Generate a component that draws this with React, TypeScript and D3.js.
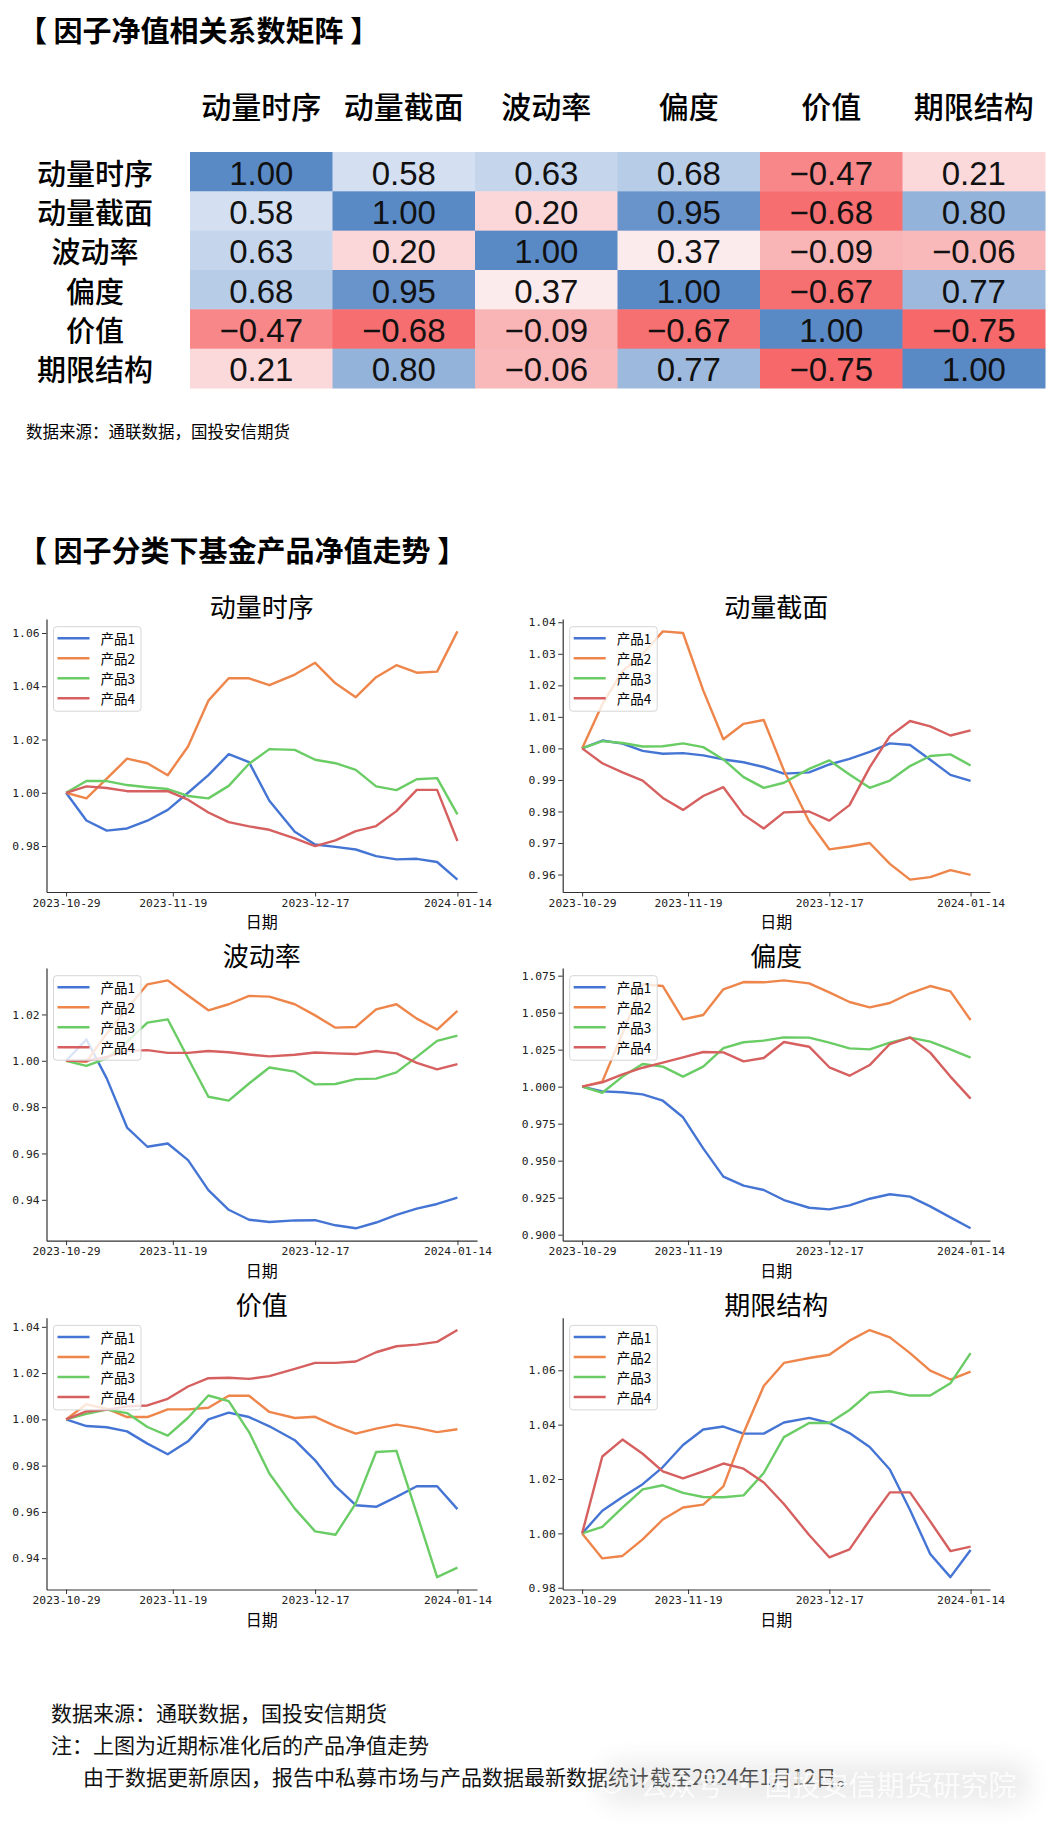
import React, { useEffect, useRef } from 'react';
import * as d3 from 'd3';

// 因子名称
const factors = ['动量时序', '动量截面', '波动率', '偏度', '价值', '期限结构'];

// 相关系数矩阵（按行）
const corrMomTs = [1.0, 0.58, 0.63, 0.68, -0.47, 0.21];
const corrMomCs = [0.58, 1.0, 0.2, 0.95, -0.68, 0.8];
const corrVol = [0.63, 0.2, 1.0, 0.37, -0.09, -0.06];
const corrSkew = [0.68, 0.95, 0.37, 1.0, -0.67, 0.77];
const corrValue = [-0.47, -0.68, -0.09, -0.67, 1.0, -0.75];
const corrTerm = [0.21, 0.8, -0.06, 0.77, -0.75, 1.0];

const products = ['产品1', '产品2', '产品3', '产品4'];
const lineColors = ['#4575d4', '#ee854a', '#6acc64', '#d65f5f'];

const dates = [
  '2023-10-29', '2023-11-02', '2023-11-06', '2023-11-10', '2023-11-14',
  '2023-11-18', '2023-11-22', '2023-11-26', '2023-11-30', '2023-12-04',
  '2023-12-08', '2023-12-13', '2023-12-17', '2023-12-21', '2023-12-25',
  '2023-12-29', '2024-01-02', '2024-01-06', '2024-01-10', '2024-01-14',
];
const xTickDates = ['2023-10-29', '2023-11-19', '2023-12-17', '2024-01-14'];

// 动量时序
const momTs1 = [1.0, 0.9896, 0.9858, 0.9866, 0.9895, 0.9936, 1.0, 1.0066, 1.0145, 1.0115, 0.997, 0.9854, 0.9806, 0.9797, 0.9787, 0.9762, 0.975, 0.9752, 0.974, 0.9674];
const momTs2 = [1.0, 0.9979, 1.0053, 1.0128, 1.0111, 1.0066, 1.0174, 1.0346, 1.043, 1.043, 1.0404, 1.0444, 1.0488, 1.0411, 1.0359, 1.0434, 1.0479, 1.0451, 1.0455, 1.0606];
const momTs3 = [1.0, 1.0044, 1.0044, 1.0029, 1.0021, 1.0014, 0.9988, 0.9979, 1.0026, 1.0109, 1.0164, 1.0161, 1.0124, 1.0111, 1.0086, 1.0024, 1.001, 1.0051, 1.0055, 0.9919];
const momTs4 = [1.0, 1.0024, 1.0018, 1.0006, 1.0006, 1.0006, 0.9974, 0.9926, 0.989, 0.9874, 0.9861, 0.9829, 0.98, 0.9821, 0.9856, 0.9875, 0.9931, 1.0011, 1.0011, 0.9819];

// 动量截面
const momCs1 = [1.0, 1.0025, 1.0015, 0.9992, 0.9983, 0.9985, 0.9978, 0.9965, 0.9956, 0.9941, 0.992, 0.9924, 0.9949, 0.9967, 0.9989, 1.0016, 1.0011, 0.9964, 0.9916, 0.9897];
const momCs2 = [1.0, 1.014, 1.0245, 1.03, 1.0371, 1.0366, 1.0184, 1.0029, 1.0078, 1.009, 0.993, 0.9768, 0.968, 0.9689, 0.97, 0.9634, 0.9584, 0.9592, 0.9614, 0.9599];
const momCs3 = [1.0, 1.0023, 1.0017, 1.0006, 1.0007, 1.0016, 1.0004, 0.9965, 0.9909, 0.9875, 0.9891, 0.9935, 0.9962, 0.9917, 0.9875, 0.9898, 0.9944, 0.9976, 0.9981, 0.9946];
const momCs4 = [1.0, 0.9953, 0.9924, 0.9898, 0.9843, 0.9805, 0.9849, 0.9877, 0.979, 0.9746, 0.9797, 0.98, 0.9771, 0.982, 0.994, 1.0039, 1.0087, 1.007, 1.0041, 1.0057];

// 波动率
const vol1 = [1.0, 1.0092, 0.9924, 0.9712, 0.9629, 0.9643, 0.9571, 0.9442, 0.9357, 0.9314, 0.9304, 0.9311, 0.9312, 0.929, 0.9277, 0.9302, 0.9335, 0.9362, 0.9382, 0.9409];
const vol2 = [1.0, 0.9996, 1.0118, 1.0225, 1.033, 1.0347, 1.0282, 1.0218, 1.0244, 1.028, 1.0277, 1.0244, 1.0196, 1.0143, 1.0146, 1.0222, 1.0244, 1.0182, 1.0135, 1.0215];
const vol3 = [1.0, 0.9978, 1.001, 1.0082, 1.0165, 1.0179, 1.0011, 0.9845, 0.9828, 0.9902, 0.9971, 0.9953, 0.9898, 0.99, 0.9921, 0.9923, 0.995, 1.0017, 1.0086, 1.0109];
const vol4 = [1.0, 1.0, 1.0017, 1.0043, 1.0046, 1.0034, 1.0034, 1.0042, 1.0037, 1.0027, 1.0019, 1.0026, 1.0036, 1.0032, 1.0029, 1.0042, 1.0032, 0.9991, 0.9963, 0.9986];

// 偏度
const skew1 = [1.0, 0.9968, 0.9962, 0.9948, 0.9905, 0.9793, 0.9583, 0.9392, 0.9331, 0.9302, 0.9234, 0.9182, 0.9171, 0.9198, 0.9243, 0.9273, 0.9257, 0.9191, 0.9117, 0.9043];
const skew2 = [1.0, 1.0034, 1.036, 1.0691, 1.068, 1.0455, 1.0484, 1.0658, 1.0707, 1.0705, 1.0718, 1.0698, 1.0637, 1.0572, 1.0536, 1.0565, 1.0631, 1.068, 1.0644, 1.045];
const skew3 = [1.0, 0.9959, 1.0068, 1.0153, 1.0135, 1.0068, 1.0135, 1.0261, 1.03, 1.0311, 1.0333, 1.0331, 1.0297, 1.0259, 1.0252, 1.0297, 1.0331, 1.0304, 1.0252, 1.0196];
const skew4 = [1.0, 1.0029, 1.0083, 1.0128, 1.0162, 1.0198, 1.0234, 1.0232, 1.0171, 1.0194, 1.0302, 1.027, 1.0131, 1.0074, 1.0146, 1.0288, 1.0333, 1.023, 1.0068, 0.9919];

// 价值
const value1 = [1.0, 0.9971, 0.9966, 0.9948, 0.9895, 0.9849, 0.9905, 1.0, 1.0029, 1.001, 0.997, 0.991, 0.9823, 0.9711, 0.9629, 0.9622, 0.9665, 0.9711, 0.9711, 0.9612];
const value2 = [1.0, 1.0065, 1.0046, 1.001, 1.001, 1.0043, 1.0043, 1.005, 1.0102, 1.0102, 1.0032, 1.0006, 1.0011, 0.9971, 0.9938, 0.996, 0.9977, 0.9963, 0.9945, 0.9957];
const value3 = [1.0, 1.0024, 1.0042, 1.0027, 0.9967, 0.993, 1.0007, 1.0103, 1.0079, 0.9945, 0.9766, 0.9614, 0.9516, 0.9501, 0.9637, 0.9859, 0.9864, 0.9593, 0.9318, 0.9359];
const value4 = [1.0, 1.0034, 1.0042, 1.0056, 1.006, 1.0089, 1.0142, 1.0178, 1.018, 1.0175, 1.0187, 1.0218, 1.0244, 1.0244, 1.025, 1.029, 1.0316, 1.0323, 1.0335, 1.0386];

// 期限结构
const term1 = [1.0, 1.0083, 1.0134, 1.0181, 1.0244, 1.0325, 1.0382, 1.0393, 1.0367, 1.0367, 1.0408, 1.0425, 1.0406, 1.0369, 1.0318, 1.0235, 1.0086, 0.9924, 0.9839, 0.9939];
const term2 = [1.0, 0.9908, 0.9917, 0.9978, 1.0051, 1.0095, 1.0106, 1.0173, 1.0369, 1.0542, 1.0627, 1.0645, 1.0657, 1.0709, 1.0748, 1.0721, 1.0663, 1.0599, 1.0566, 1.0595];
const term3 = [1.0, 1.0024, 1.0095, 1.0162, 1.0177, 1.0149, 1.0134, 1.0133, 1.014, 1.0222, 1.0354, 1.0406, 1.0406, 1.0454, 1.0518, 1.0523, 1.0507, 1.0507, 1.0552, 1.0663];
const term4 = [1.0, 1.0283, 1.0345, 1.0293, 1.0228, 1.0202, 1.0228, 1.0257, 1.0238, 1.0187, 1.0108, 0.9994, 0.9912, 0.9941, 1.0049, 1.0151, 1.0151, 1.0044, 0.9935, 0.9951];

// y 轴刻度
const yTicksMomTs = [0.98, 1.0, 1.02, 1.04, 1.06];
const yTicksMomCs = [0.96, 0.97, 0.98, 0.99, 1.0, 1.01, 1.02, 1.03, 1.04];
const yTicksVol = [0.94, 0.96, 0.98, 1.0, 1.02];
const yTicksSkew = [0.9, 0.925, 0.95, 0.975, 1.0, 1.025, 1.05, 1.075];
const yTicksValue = [0.94, 0.96, 0.98, 1.0, 1.02, 1.04];
const yTicksTerm = [0.98, 1.0, 1.02, 1.04, 1.06];

const W = 1047;
const H = 1825;
const CJK = "'Noto Sans CJK SC', 'Noto Sans CJK JP', sans-serif";
const MONO = "'DejaVu Sans Mono', monospace";
const ARIAL = "'Liberation Sans', Arial, sans-serif";

const App = () => {
  const svgRef = useRef<SVGSVGElement>(null);

  useEffect(() => {
    const svg = d3.select(svgRef.current);
    svg.selectAll('*').remove();

    svg.append('rect').attr('width', W).attr('height', H).attr('fill', '#fff');

    // ---------- 相关系数矩阵 ----------
    svg.append('text')
      .attr('x', 18).attr('y', 29)
      .attr('dominant-baseline', 'central')
      .attr('font-family', CJK).attr('font-size', 29).attr('font-weight', 'bold')
      .text('【 因子净值相关系数矩阵 】');

    const corr = [corrMomTs, corrMomCs, corrVol, corrSkew, corrValue, corrTerm];
    const hx = d3.scaleBand().domain(factors).range([190, 1045]);
    const hy = d3.scaleBand().domain(factors).range([152, 388]);
    // 红-白-蓝分段色阶
    const color = d3.scaleLinear<string>()
      .domain([-0.73, 0.43, 0.49, 1.0])
      .range(['#f6686a', '#fcf2f4', '#eef3fa', '#5a8ac6'])
      .clamp(true);
    const fmt2 = d3.format('.2f');

    const heat = svg.append('g');
    corr.forEach((row, i) => {
      row.forEach((v, j) => {
        heat.append('rect')
          .attr('x', hx(factors[j])!)
          .attr('y', hy(factors[i])!)
          .attr('width', hx.bandwidth() + 0.5)
          .attr('height', hy.bandwidth() + 0.5)
          .attr('fill', color(v));
        heat.append('text')
          .attr('x', hx(factors[j])! + hx.bandwidth() / 2)
          .attr('y', hy(factors[i])! + hy.bandwidth() / 2 + 1.5)
          .attr('text-anchor', 'middle')
          .attr('dominant-baseline', 'central')
          .attr('font-family', ARIAL).attr('font-size', 33)
          .attr('fill', '#111')
          .text(fmt2(v));
      });
    });

    heat.selectAll('.col-label')
      .data(factors)
      .enter().append('text')
      .attr('x', d => hx(d)! + hx.bandwidth() / 2)
      .attr('y', 105)
      .attr('text-anchor', 'middle')
      .attr('dominant-baseline', 'central')
      .attr('font-family', CJK).attr('font-size', 30).attr('font-weight', 500)
      .text(d => d);

    heat.selectAll('.row-label')
      .data(factors)
      .enter().append('text')
      .attr('x', 95)
      .attr('y', d => hy(d)! + hy.bandwidth() / 2)
      .attr('text-anchor', 'middle')
      .attr('dominant-baseline', 'central')
      .attr('font-family', CJK).attr('font-size', 29).attr('font-weight', 500)
      .text(d => d);

    svg.append('text')
      .attr('x', 26).attr('y', 431)
      .attr('dominant-baseline', 'central')
      .attr('font-family', CJK).attr('font-size', 16.5)
      .text('数据来源：通联数据，国投安信期货');

    // ---------- 净值走势 ----------
    svg.append('text')
      .attr('x', 18).attr('y', 549)
      .attr('dominant-baseline', 'central')
      .attr('font-family', CJK).attr('font-size', 29).attr('font-weight', 'bold')
      .text('【 因子分类下基金产品净值走势 】');

    const panels = [
      { title: '动量时序', series: [momTs1, momTs2, momTs3, momTs4], yTicks: yTicksMomTs, fmt: '.2f' },
      { title: '动量截面', series: [momCs1, momCs2, momCs3, momCs4], yTicks: yTicksMomCs, fmt: '.2f' },
      { title: '波动率', series: [vol1, vol2, vol3, vol4], yTicks: yTicksVol, fmt: '.2f' },
      { title: '偏度', series: [skew1, skew2, skew3, skew4], yTicks: yTicksSkew, fmt: '.3f' },
      { title: '价值', series: [value1, value2, value3, value4], yTicks: yTicksValue, fmt: '.2f' },
      { title: '期限结构', series: [term1, term2, term3, term4], yTicks: yTicksTerm, fmt: '.2f' },
    ];
    const colX = [[46.5, 477], [562.7, 990]];
    const rowY = [[619, 892], [968, 1240.7], [1317.7, 1589.5]];

    const parse = d3.timeParse('%Y-%m-%d');
    const t = dates.map(d => parse(d)!);
    const tSpan = +t[t.length - 1] - +t[0];

    panels.forEach((p, k) => {
      const [x0, x1] = colX[k % 2];
      const [y0, y1] = rowY[Math.floor(k / 2)];
      const g = svg.append('g');

      const x = d3.scaleTime()
        .domain([new Date(+t[0] - tSpan * 0.05), new Date(+t[t.length - 1] + tSpan * 0.05)])
        .range([x0, x1]);
      const [mn, mx] = d3.extent(p.series.flat()) as [number, number];
      const pad = (mx - mn) * 0.05;
      const y = d3.scaleLinear().domain([mn - pad, mx + pad]).range([y1, y0]);

      const line = d3.line<number>()
        .x((d, i) => x(t[i]))
        .y(d => y(d));

      p.series.forEach((s, i) => {
        g.append('path')
          .datum(s)
          .attr('d', line)
          .attr('fill', 'none')
          .attr('stroke', lineColors[i])
          .attr('stroke-width', 2.4)
          .attr('stroke-linejoin', 'round');
      });

      const xAxis = d3.axisBottom(x)
        .tickValues(xTickDates.map(d => parse(d)!))
        .tickFormat(d => d3.timeFormat('%Y-%m-%d')(d as Date))
        .tickSize(4.5).tickSizeOuter(0).tickPadding(2);
      const gx = g.append('g').attr('transform', `translate(0,${y1})`).call(xAxis);

      const yAxis = d3.axisLeft(y)
        .tickValues(p.yTicks)
        .tickFormat(d3.format(p.fmt))
        .tickSize(4.5).tickSizeOuter(0).tickPadding(2.5);
      const gy = g.append('g').attr('transform', `translate(${x0},0)`).call(yAxis);

      [gx, gy].forEach(ax => {
        ax.select('.domain').attr('stroke', '#333').attr('stroke-width', 1.2);
        ax.selectAll('.tick line').attr('stroke', '#333').attr('stroke-width', 1);
        ax.selectAll('.tick text')
          .attr('font-family', MONO).attr('font-size', 11.3).attr('fill', '#222');
      });

      g.append('text')
        .attr('x', (x0 + x1) / 2).attr('y', y0 - 14)
        .attr('text-anchor', 'middle').attr('dominant-baseline', 'central')
        .attr('font-family', CJK).attr('font-size', 26)
        .text(p.title);

      g.append('text')
        .attr('x', (x0 + x1) / 2).attr('y', y1 + 29)
        .attr('text-anchor', 'middle').attr('dominant-baseline', 'central')
        .attr('font-family', CJK).attr('font-size', 16)
        .text('日期');

      // 图例
      const lx = x0 + 7;
      const ly = y0 + 7.7;
      const lg = g.append('g').attr('transform', `translate(${lx},${ly})`);
      lg.append('rect')
        .attr('width', 87.5).attr('height', 84.5).attr('rx', 3)
        .attr('fill', '#fff').attr('fill-opacity', 0.8)
        .attr('stroke', '#d6d6d6').attr('stroke-width', 1);
      products.forEach((name, i) => {
        const cy = 11.6 + i * 20;
        lg.append('line')
          .attr('x1', 4).attr('x2', 36).attr('y1', cy).attr('y2', cy)
          .attr('stroke', lineColors[i]).attr('stroke-width', 2.4);
        lg.append('text')
          .attr('x', 47).attr('y', cy)
          .attr('dominant-baseline', 'central')
          .attr('font-family', CJK).attr('font-size', 13.5)
          .text(name);
      });
    });

    // ---------- 注释 ----------
    const notes = [
      { text: '数据来源：通联数据，国投安信期货', x: 51, y: 1712 },
      { text: '注：上图为近期标准化后的产品净值走势', x: 51, y: 1744 },
      { text: '由于数据更新原因，报告中私募市场与产品数据最新数据统计截至2024年1月12日。', x: 83, y: 1776 },
    ];
    notes.forEach(n => {
      svg.append('text')
        .attr('x', n.x).attr('y', n.y)
        .attr('dominant-baseline', 'central')
        .attr('font-family', CJK).attr('font-size', 21)
        .attr('fill', '#111')
        .text(n.text);
    });

    // 水印
    const defs = svg.append('defs');
    defs.append('filter').attr('id', 'wm-blur')
      .attr('x', '-30%').attr('y', '-80%').attr('width', '160%').attr('height', '260%')
      .append('feGaussianBlur').attr('stdDeviation', 12);
    svg.append('rect')
      .attr('x', 600).attr('y', 1762).attr('width', 430).attr('height', 42).attr('rx', 20)
      .attr('fill', '#cfcfcf').attr('opacity', 0.4)
      .attr('filter', 'url(#wm-blur)');
    svg.append('circle')
      .attr('cx', 612).attr('cy', 1784).attr('r', 9)
      .attr('fill', 'none').attr('stroke', '#fff').attr('stroke-width', 2).attr('opacity', 0.8);
    svg.append('text')
      .attr('x', 640).attr('y', 1784)
      .attr('dominant-baseline', 'central')
      .attr('font-family', CJK).attr('font-size', 28)
      .attr('fill', '#fff').attr('opacity', 0.8)
      .text('公众号 · 国投安信期货研究院');
  }, []);

  return (
    <svg
      ref={svgRef}
      width={W}
      height={H}
      style={{ position: 'absolute', left: 0, top: 0, display: 'block' }}
    ></svg>
  );
};

export default App;
